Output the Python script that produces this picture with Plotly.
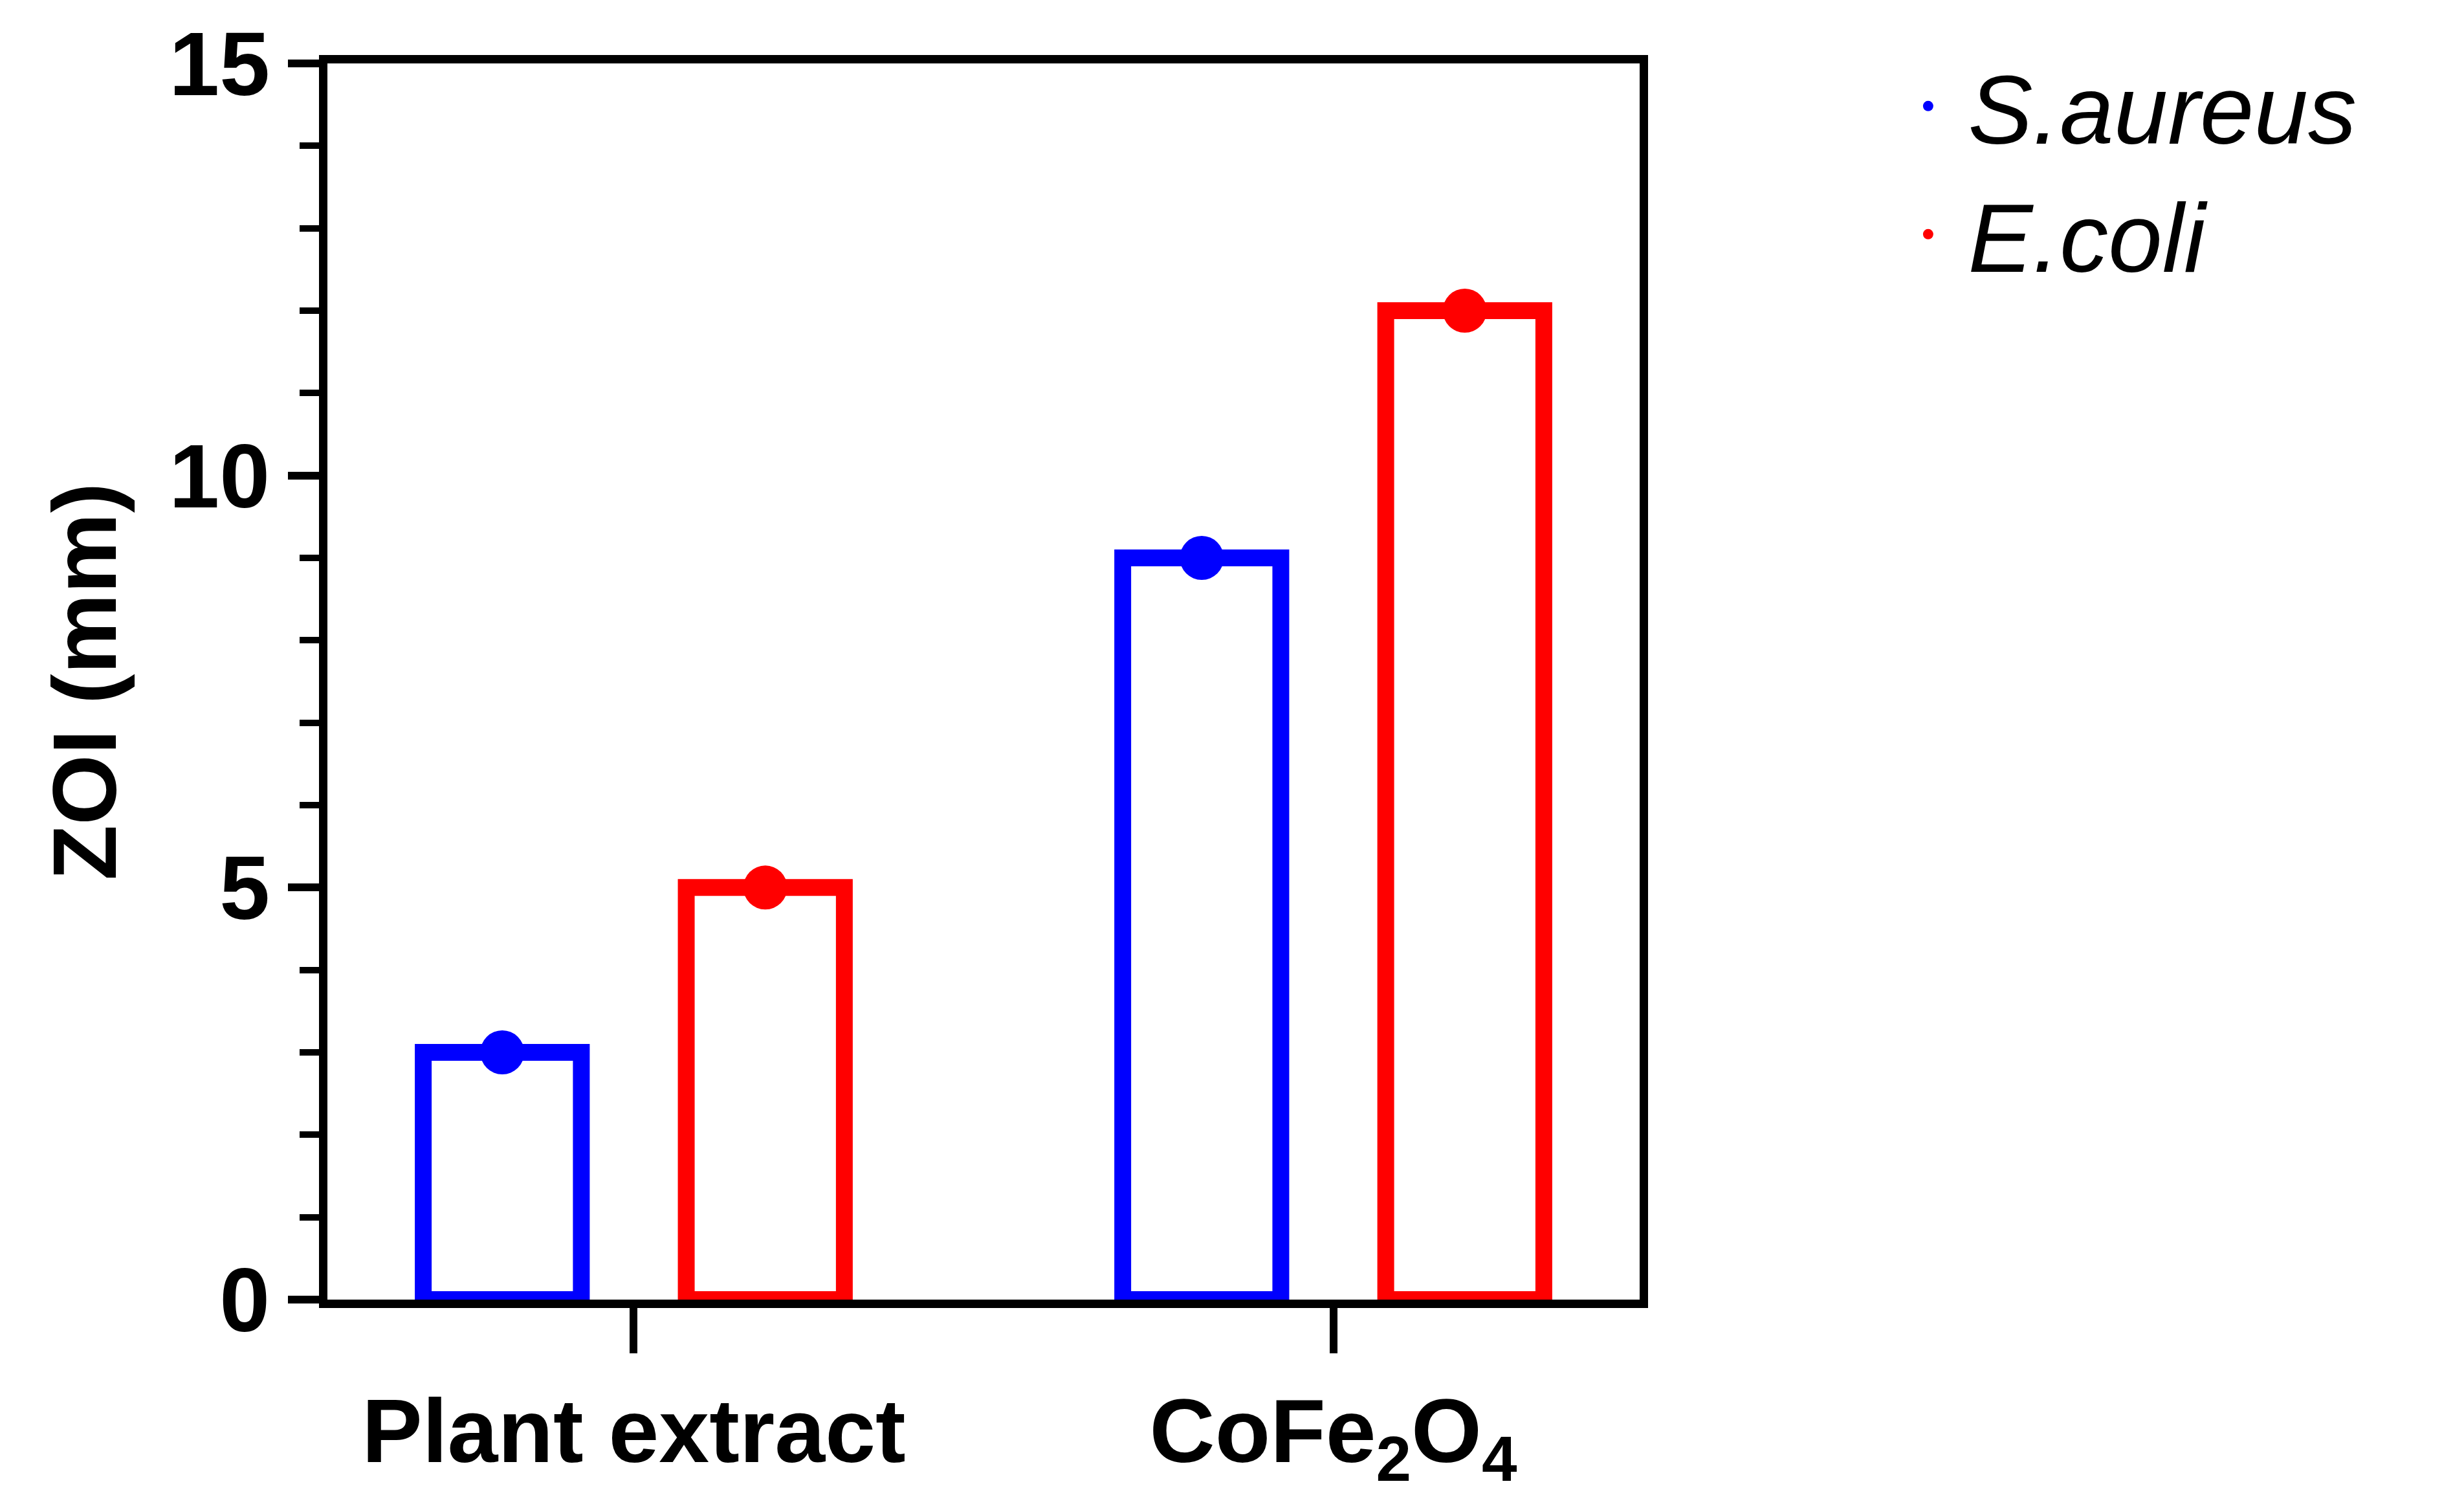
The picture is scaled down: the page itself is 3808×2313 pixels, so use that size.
import plotly.graph_objects as go

categories = ["Plant extract", "CoFe<sub>2</sub>O<sub>4</sub>"]
cat_pos = [0, 1]
s_aureus = [3, 9]
e_coli = [5, 12]

offset = 0.188
bar_w = 0.226

fig = go.Figure()
for name, vals, color, sign in [("S.aureus", s_aureus, "#0000ff", -1), ("E.coli", e_coli, "#ff0000", 1)]:
    xs = [p + sign * offset for p in cat_pos]
    fig.add_trace(go.Bar(
        x=xs, y=vals, width=bar_w, showlegend=False,
        marker=dict(color="white", line=dict(color=color, width=26)),
    ))
    fig.add_trace(go.Scatter(
        x=xs, y=vals, mode="markers", name=" <i>" + name + "</i>",
        marker=dict(color=color, size=68),
    ))

fig.update_layout(
    width=3808, height=2313,
    paper_bgcolor="white", plot_bgcolor="white",
    margin=dict(l=498, r=3808 - 2526, t=78, b=2313 - 2004),
    font=dict(family="Liberation Sans, Arial", color="black"),
    legend=dict(x=1.21, y=1.02, xanchor="left", yanchor="top",
                font=dict(size=150), itemsizing="trace", itemwidth=30, tracegroupgap=0),
)
fig.update_xaxes(
    range=[-0.438, 1.438], tickvals=cat_pos, ticktext=["<b>%s</b>" % c for c in categories],
    tickfont=dict(size=140), ticks="outside", ticklen=70, tickwidth=12, tickcolor="black",
    showline=True, linewidth=13, linecolor="black", mirror=True, showgrid=False,
)
fig.update_yaxes(
    range=[0, 15], tickvals=[0, 5, 10, 15], ticktext=["<b>0</b>", "<b>5</b>", "<b>10</b>", "<b>15</b>"],
    tickfont=dict(size=140), ticks="outside", ticklen=48, tickwidth=12, tickcolor="black",
    minor=dict(dtick=1, ticks="outside", ticklen=30, tickwidth=10, tickcolor="black"),
    showline=True, linewidth=13, linecolor="black", mirror=True, showgrid=False, zeroline=False,
    title=dict(text="<b>ZOI (mm)</b>", font=dict(size=140), standoff=40),
)
fig.write_html("out.html")
